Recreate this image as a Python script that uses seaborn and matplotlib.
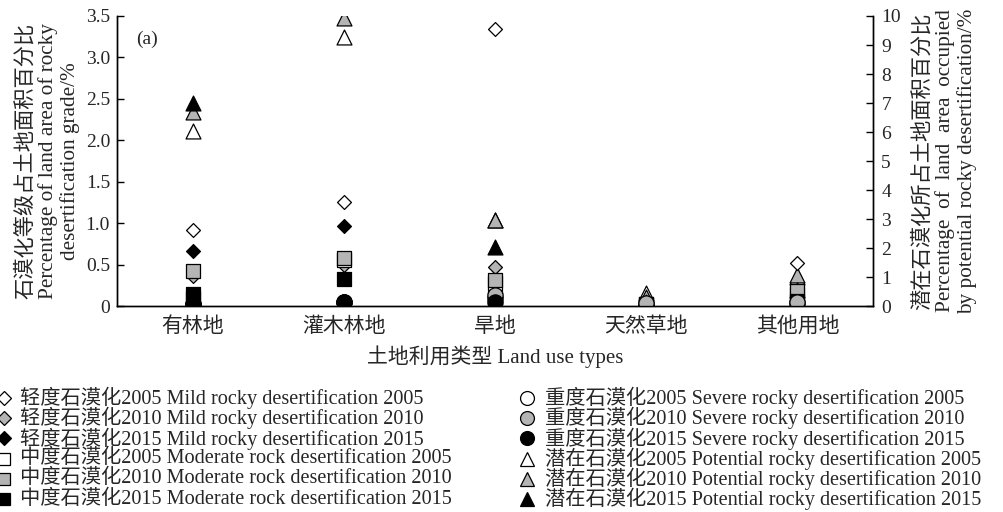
import numpy as np
import pandas as pd
import matplotlib
matplotlib.use('Agg')
import matplotlib.pyplot as plt
import seaborn as sns
from matplotlib.lines import Line2D
from matplotlib.ticker import FixedLocator

# ---------------- data ----------------
land_types = ['有林地', '灌木林地', '旱地', '天然草地', '其他用地']

# left axis: share of land area by desertification grade (%)
mild_2005 = [0.92, 1.25, 3.34, 0.03, 0.52]
mild_2010 = [0.36, 0.50, 0.47, 0.02, 0.15]
mild_2015 = [0.67, 0.96, 0.30, 0.02, 0.17]
moderate_2005 = [0.10, 0.55, 0.28, 0.02, 0.15]
moderate_2010 = [0.42, 0.58, 0.31, 0.02, 0.18]
moderate_2015 = [0.15, 0.33, 0.10, 0.01, 0.06]
severe_2005 = [0.02, 0.05, 0.10, 0.02, 0.04]
severe_2010 = [0.02, 0.05, 0.13, 0.04, 0.05]
severe_2015 = [0.02, 0.05, 0.05, np.nan, np.nan]

# right axis: share of land area in potential desertification (%)
potential_2005 = [6.05, 9.28, 2.95, 0.45, 1.00]
potential_2010 = [6.70, 9.93, 2.97, 0.30, 1.07]
potential_2015 = [7.00, 0.10, 2.03, 0.15, 0.55]

GRAY = '#b4b4b4'

left_series = [
    ('轻度石漠化2005 Mild rocky desertification 2005', mild_2005, 'D', 'white'),
    ('轻度石漠化2010 Mild rocky desertification 2010', mild_2010, 'D', GRAY),
    ('轻度石漠化2015 Mild rocky desertification 2015', mild_2015, 'D', 'black'),
    ('中度石漠化2005 Moderate rock desertification 2005', moderate_2005, 's', 'white'),
    ('中度石漠化2010 Moderate rock desertification 2010', moderate_2010, 's', GRAY),
    ('中度石漠化2015 Moderate rock desertification 2015', moderate_2015, 's', 'black'),
    ('重度石漠化2005 Severe rocky desertification 2005', severe_2005, 'o', 'white'),
    ('重度石漠化2010 Severe rocky desertification 2010', severe_2010, 'o', GRAY),
    ('重度石漠化2015 Severe rocky desertification 2015', severe_2015, 'o', 'black'),
]
right_series = [
    ('潜在石漠化2005 Potential rocky desertification 2005', potential_2005, '^', 'white'),
    ('潜在石漠化2010 Potential rocky desertification 2010', potential_2010, '^', GRAY),
    ('潜在石漠化2015 Potential rocky desertification 2015', potential_2015, '^', 'black'),
]
sizes = {'D': 50, 's': 100, 'o': 120, '^': 115}

# ---------------- style ----------------
sns.set_theme(style='white')
plt.rcParams['font.family'] = ['Liberation Serif', 'Noto Sans CJK SC']
plt.rcParams['axes.linewidth'] = 1.0

W, H = 1004, 512
fig, ax = plt.subplots(figsize=(W / 100, H / 100), dpi=100)
fig.subplots_adjust(left=0.1165, right=0.8695, bottom=0.4023, top=0.96875)
ax2 = ax.twinx()

for label, vals, mk, col in right_series:
    df = pd.DataFrame({'land': land_types, 'value': vals}).dropna()
    sns.scatterplot(data=df, x='land', y='value', marker=mk, color=col,
                    edgecolor='black', linewidth=0.9, s=sizes[mk], ax=ax2)

for label, vals, mk, col in left_series:
    df = pd.DataFrame({'land': land_types, 'value': vals}).dropna()
    sns.scatterplot(data=df, x='land', y='value', marker=mk, color=col,
                    edgecolor='black', linewidth=0.9, s=sizes[mk], ax=ax)

# circles etc. sit above the triangles
ax.set_zorder(ax2.get_zorder() + 1)
ax.patch.set_visible(False)

ax.set_xlim(-0.5, 4.5)
ax.set_ylim(0, 3.5)
ax2.set_ylim(0, 10)

ax.set_yticks(np.arange(0, 3.51, 0.5))
ax.set_yticklabels(['0', '0.5', '1.0', '1.5', '2.0', '2.5', '3.0', '3.5'])
ax2.set_yticks(range(0, 11))

ax.set_xticks(range(len(land_types)))
ax.set_xticklabels(land_types, fontsize=15)
ax.xaxis.set_minor_locator(FixedLocator([0.5, 1.5, 2.5, 3.5]))
ax.tick_params(axis='x', which='major', length=0, pad=8)
ax.tick_params(axis='x', which='minor', direction='in', length=5, width=1, color='black')
ax.tick_params(axis='y', direction='in', length=5, width=1, color='black',
               labelsize=14, left=True, pad=5)
ax2.tick_params(axis='y', direction='in', length=5, width=1, color='black',
                labelsize=14, right=True, pad=6)

for a in (ax, ax2):
    a.spines['top'].set_visible(False)
    for s in ('left', 'bottom', 'right'):
        a.spines[s].set_color('black')
    a.grid(False)

ax.set_xlabel('土地利用类型 Land use types', fontsize=15, labelpad=6)
ax.set_ylabel('石漠化等级占土地面积百分比\nPercentage of land area of rocky\ndesertification grade/%',
              fontsize=15.3, linespacing=1.15, labelpad=4)
ax2.set_ylabel('潜在石漠化所占土地面积百分比\nPercentage  of  land  area  occupied\nby potential rocky desertification/%',
               fontsize=15.3, linespacing=1.15, rotation=90, labelpad=8)
ax.text(0.025, 0.905, '(a)', transform=ax.transAxes, fontsize=14)

# ---------------- legend (two columns of six rows) ----------------
row_y = [398 + 20.2 * i for i in range(6)]
columns = [(4, 20, left_series[:6]), (527, 545, left_series[6:] + right_series)]
for mx, tx, entries in columns:
    for yy, (label, vals, mk, col) in zip(row_y, entries):
        ms = {'D': 7.5, 's': 9, 'o': 10, '^': 10}[mk]
        fy = 1 - yy / H
        fig.add_artist(Line2D([mx / W], [fy], transform=fig.transFigure, linestyle='none',
                              marker=mk, markersize=ms, markerfacecolor=col,
                              markeredgecolor='black', markeredgewidth=0.9))
        fig.text(tx / W, fy, label, fontsize=14.6, va='center', ha='left')

fig.savefig('out.png', dpi=100)
